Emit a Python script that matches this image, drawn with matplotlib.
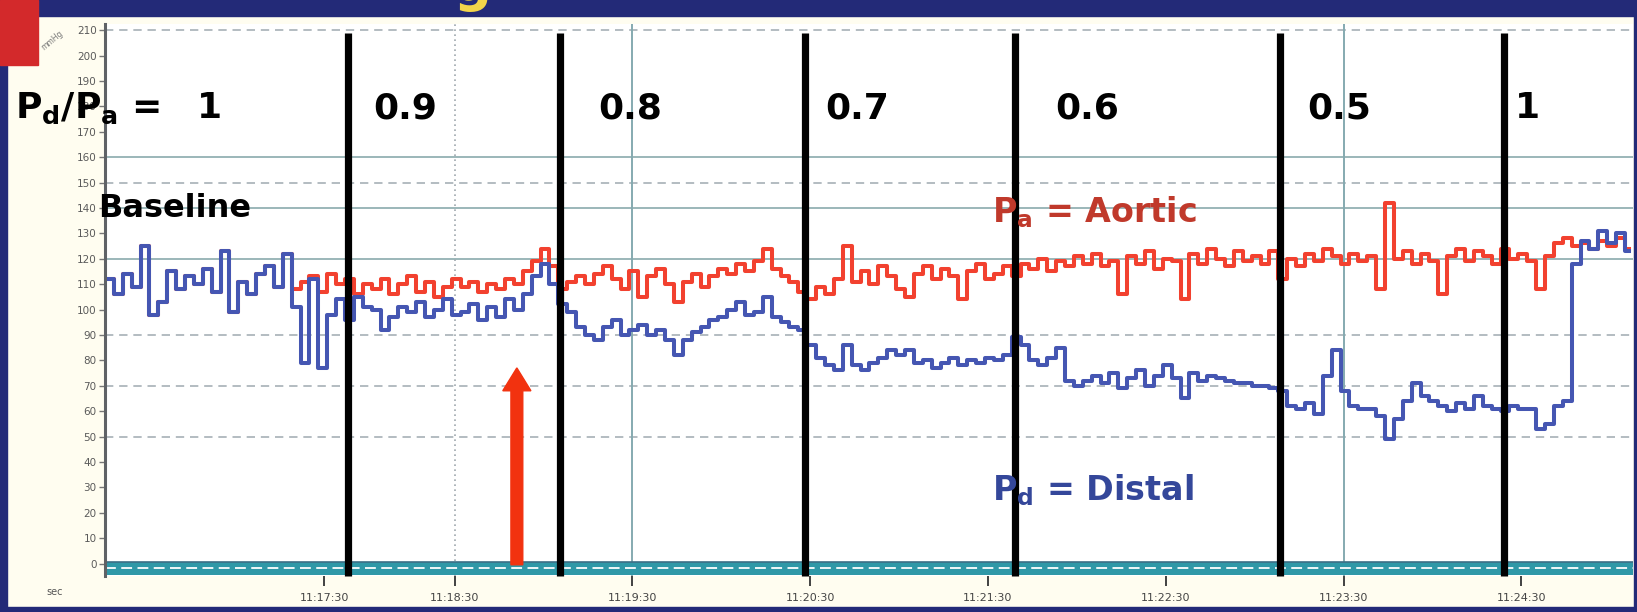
import numpy as np
import matplotlib.pyplot as plt
from matplotlib.patches import Rectangle

# pressures read every 3 s, mmHg
sample_step = 3
aortic = [112, 106, 114, 109, 125, 98, 103, 115, 108, 113,
          110, 116, 107, 123, 99, 111, 106, 114, 117, 109,
          122, 108, 111, 113, 107, 114, 110, 112, 106, 110,
          108, 112, 106, 110, 113, 107, 111, 105, 109, 112,
          109, 111, 107, 110, 108, 112, 110, 115, 119, 124,
          117, 108, 111, 113, 110, 114, 117, 112, 108, 115,
          105, 113, 116, 110, 103, 111, 114, 109, 113, 116,
          114, 118, 115, 119, 124, 116, 113, 111, 107, 104,
          109, 106, 112, 125, 111, 115, 110, 117, 113, 108,
          105, 114, 117, 112, 116, 113, 104, 115, 118, 112,
          114, 117, 113, 118, 116, 120, 115, 119, 117, 121,
          118, 122, 117, 119, 106, 121, 118, 123, 116, 120,
          119, 104, 122, 118, 124, 120, 117, 123, 119, 121,
          118, 123, 112, 120, 117, 122, 119, 124, 121, 118,
          122, 119, 121, 108, 142, 120, 123, 118, 122, 119,
          106, 121, 124, 119, 123, 121, 118, 124, 120, 122,
          119, 108, 121, 126, 128, 125, 126, 124, 127, 125, 128, 124]
distal = [112, 106, 114, 109, 125, 98, 103, 115, 108, 113,
          110, 116, 107, 123, 99, 111, 106, 114, 117, 109,
          122, 101, 79, 112, 77, 98, 104, 96, 105, 101,
          100, 92, 97, 101, 99, 103, 97, 100, 104, 98,
          99, 102, 96, 101, 97, 104, 100, 106, 113, 118,
          110, 102, 99, 93, 90, 88, 93, 96, 90, 92,
          94, 90, 92, 88, 82, 88, 91, 93, 96, 97,
          100, 103, 98, 99, 105, 97, 95, 93, 92, 86,
          81, 78, 76, 86, 78, 76, 79, 81, 84, 82,
          84, 79, 80, 77, 79, 81, 78, 80, 79, 81,
          80, 82, 89, 86, 80, 78, 81, 85, 72, 70,
          72, 74, 71, 75, 69, 73, 76, 70, 74, 78,
          73, 65, 75, 72, 74, 73, 72, 71, 71, 70,
          70, 69, 68, 62, 61, 63, 59, 74, 84, 68,
          62, 61, 61, 58, 49, 57, 64, 71, 66, 64,
          62, 60, 63, 61, 66, 62, 61, 60, 62, 61,
          61, 53, 55, 62, 64, 118, 127, 124, 131, 126, 130, 123]

# balloon steps (s) and the Pd/Pa held after each one
step_times = [82, 153.5, 236.2, 307.1, 396.5, 472.1]
ratio_labels = ['0.9', '0.8', '0.7', '0.6', '0.5', '1']
ratio_label_x = [90.4, 166.4, 243.0, 320.6, 405.7, 475.9]
adenosine_time = 139

time_ticks = [74, 118, 178, 238, 298, 358, 418, 478]
time_labels = ['11:17:30', '11:18:30', '11:19:30', '11:20:30',
               '11:21:30', '11:22:30', '11:23:30', '11:24:30']
pressure_ticks = list(range(0, 211, 10))

W, H = 1637, 612
fig = plt.figure(figsize=(W / 100, H / 100), dpi=100, facecolor='#fffdf0')
ax = fig.add_axes([105 / W, 1 - 576.2 / H, (1633 - 105) / W, (576.2 - 23.75) / H])
ax.set_facecolor('white')

t = np.arange(len(aortic)) * sample_step + sample_step / 2
ax.plot(t, aortic, drawstyle='steps-mid', color='#f2412f', lw=2.9, zorder=3)
ax.plot(t, distal, drawstyle='steps-mid', color='#4556b2', lw=2.9, zorder=4)

# monitor grid
for v in [210, 150, 90, 70, 50]:
    ax.axhline(v, color='#a7b0b6', lw=1.2, dashes=(5, 3.5), zorder=1)
for v in [160, 140, 120]:
    ax.axhline(v, color='#93b1b3', lw=1.3, zorder=1)
ax.axvline(time_ticks[1], color='#a0a8ae', lw=1.2, ls=(0, (1, 2)), zorder=1)
for v in [time_ticks[2], time_ticks[6]]:
    ax.axvline(v, color='#85aab0', lw=1.4, zorder=1)

# zero band along the bottom
ax.axhspan(-4.5, 0.6, color='#2f98a7', lw=0, zorder=2)
ax.axhline(0.6, color='#3c6f86', lw=1.2, zorder=2)
ax.axhline(-1.8, color='white', lw=1.3, dashes=(6, 3), zorder=2.5)

ax.vlines(step_times, -5, 209, color='black', lw=5.2, zorder=5, clip_on=False)
ax.arrow(adenosine_time, -0.5, 0, 77.5, width=4.0, head_width=9.5, head_length=9,
         length_includes_head=True, color='#f2320f', zorder=6)

ax.set_xlim(0, 515.7)
ax.set_ylim(-5, 212.5)
ax.set_xticks(time_ticks)
ax.set_xticklabels(time_labels)
ax.set_yticks(pressure_ticks)
ax.tick_params(axis='x', length=7, width=1.3, color='#333333', pad=5,
               labelsize=8, labelcolor='#444444')
ax.tick_params(axis='y', length=4, width=1, color='#777777', pad=2,
               labelsize=7.5, labelcolor='#5a5a5a')
for side in ['top', 'right', 'bottom']:
    ax.spines[side].set_visible(False)
ax.spines['left'].set_color('#5f6266')
ax.spines['left'].set_linewidth(2.2)

# annotations
ax.text(-30.4, 175.2, r'$\mathbf{P_d/P_a}$ =', fontsize=26, fontweight='bold',
        ha='left', va='baseline', zorder=7)
ax.text(35.4, 175.2, '1', fontsize=26, fontweight='bold', ha='center', va='baseline', zorder=7)
for x, lab in zip(ratio_label_x, ratio_labels):
    ax.text(x, 175.2, lab, fontsize=26, fontweight='bold', ha='left', va='baseline', zorder=7)
ax.text(-2.4, 136.4, 'Baseline', fontsize=23, fontweight='bold', ha='left',
        va='baseline', zorder=7)
ax.text(299.3, 134.4, r'$\mathbf{P_a}$ = Aortic', fontsize=24, fontweight='bold',
        color='#c0392b', ha='left', va='baseline', zorder=7)
ax.text(299.3, 25, r'$\mathbf{P_d}$ = Distal', fontsize=24, fontweight='bold',
        color='#34479a', ha='left', va='baseline', zorder=7)

# slide frame
navy = '#232a78'
fig.add_artist(Rectangle((0, 1 - 16 / H), 1, 16 / H, transform=fig.transFigure,
                         color=navy, zorder=10))
fig.add_artist(Rectangle((0, 0), 7 / W, 1, transform=fig.transFigure, color=navy, zorder=10))
fig.add_artist(Rectangle((0, 0), 1, 5 / H, transform=fig.transFigure, color=navy, zorder=10))
fig.add_artist(Rectangle((1 - 3 / W, 0), 3 / W, 1, transform=fig.transFigure,
                         color=navy, zorder=10))
fig.add_artist(Rectangle((0, 1 - 65 / H), 38 / W, 65 / H, transform=fig.transFigure,
                         color='#d3292b', zorder=11))
fig.text(472 / W, 1 - 1 / H, 'g', fontsize=38, fontweight='bold', color='#f3d54a',
         ha='center', va='baseline', zorder=12)
fig.text(52 / W, 1 - 40 / H, 'mmHg', fontsize=5.5, rotation=40, color='#777777',
         ha='center', va='center')
fig.text(55 / W, 1 - 592 / H, 'sec', fontsize=7, color='#555555', ha='center', va='center')

fig.savefig('out.png', dpi=100, facecolor=fig.get_facecolor())
